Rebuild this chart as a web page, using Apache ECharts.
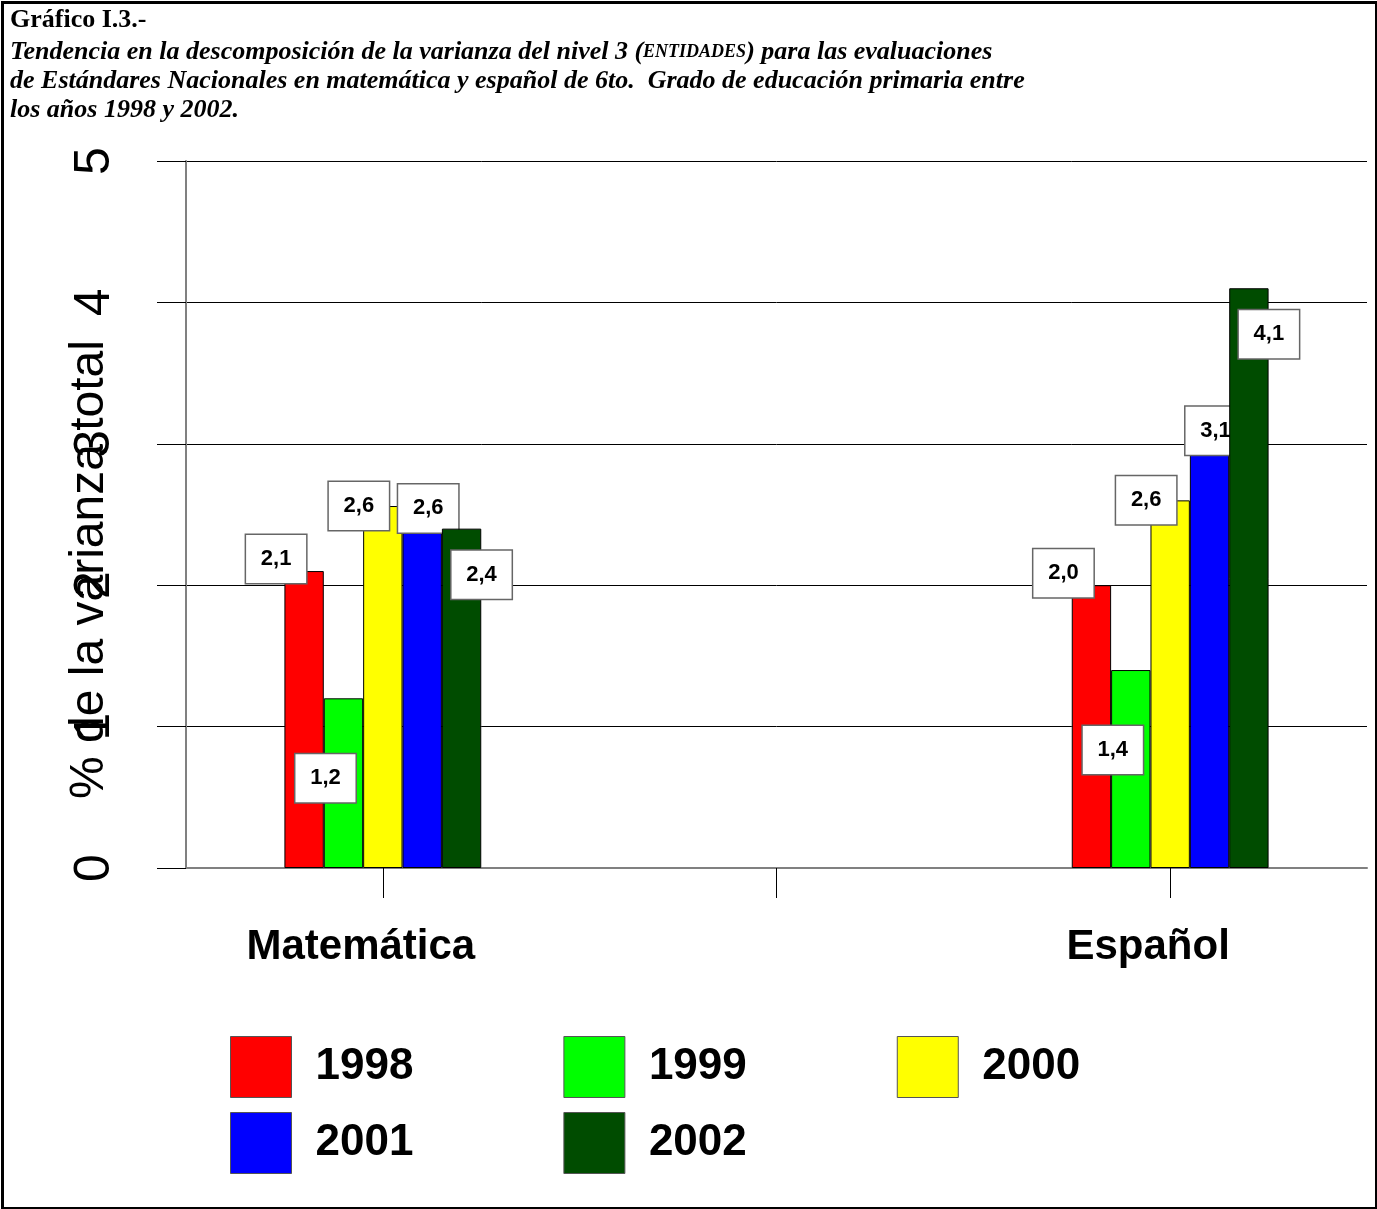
<!DOCTYPE html>
<html>
<head>
<meta charset="utf-8">
<title>Gráfico I.3</title>
<script src="https://cdn.jsdelivr.net/npm/echarts@6/dist/echarts.min.js"></script>
<style>
  html, body { margin: 0; padding: 0; background: #fff; }
  #chart { width: 1377px; height: 1209px; }
</style>
</head>
<body>
<div id="chart"></div>
<script>
// Subjects on the category axis (middle slot left empty as a spacer)
const subjects = ['Matemática', '', 'Español'];
// Evaluation years (one series each)
const years = ['1998', '1999', '2000', '2001', '2002'];
// % of variance at level 3 (entities), per year: [Matemática, spacer, Español]
const v1998 = [2.1, null, 2.0];
const v1999 = [1.2, null, 1.4];
const v2000 = [2.56, null, 2.6];
const v2001 = [2.55, null, 3.1];
const v2002 = [2.4, null, 4.1];
const yTicks = [0, 1, 2, 3, 4, 5];

const seriesValues = [v1998, v1999, v2000, v2001, v2002];
const colors = ['#ff0000', '#00ff00', '#ffff00', '#0000ff', '#004c00'];
// label box nudges per series (x, y) relative to the top of the bar
const labelNudge = [[-28, 12], [-18, 104], [-24, 24], [6, 25], [20, 70]];

const fmt = v => (Math.round(v * 10 + 1e-9) / 10).toFixed(1).replace('.', ',');

const chart = echarts.init(document.getElementById('chart'), null, { renderer: 'canvas' });

const legendBase = {
  left: 225,
  orient: 'horizontal',
  itemWidth: 61, itemHeight: 61, itemGap: 150,
  icon: 'rect',
  itemStyle: { borderColor: '#555', borderWidth: 1 },
  textStyle: { fontFamily: 'Liberation Sans', fontWeight: 'bold', fontSize: 44, color: '#000', padding: [0, 0, 0, 19] }
};

const option = {
  backgroundColor: '#fff',
  animation: false,
  title: {
    left: 5, top: 2,
    itemGap: 5,
    text: 'Gráfico I.3.-',
    textStyle: { fontFamily: 'Liberation Serif', fontWeight: 'bold', fontSize: 26, color: '#000' },
    subtext: 'Tendencia en la descomposición de la varianza del nivel 3 ({sc|ENTIDADES}) para las evaluaciones\nde Estándares Nacionales en matemática y español de 6to.  Grado de educación primaria entre\nlos años 1998 y 2002.',
    subtextStyle: {
      fontFamily: 'Liberation Serif', fontStyle: 'italic', fontWeight: 'bold', fontSize: 26, lineHeight: 29, color: '#000',
      rich: { sc: { fontFamily: 'Liberation Serif', fontStyle: 'italic', fontSize: 18, fontWeight: 'bold', color: '#000' } }
    }
  },
  grid: { left: 186, right: 10, top: 161, bottom: 341, containLabel: false },
  legend: [
    Object.assign({}, legendBase, { top: 1031, data: years.slice(0, 3) }),
    Object.assign({}, legendBase, { top: 1107, data: years.slice(3) })
  ],
  xAxis: {
    type: 'category',
    data: subjects,
    axisLine: { show: true, lineStyle: { color: '#808080', width: 2 } },
    axisTick: { show: true, alignWithLabel: true, length: 30, inside: false, lineStyle: { color: '#000', width: 1 }, interval: 0 },
    axisLabel: {
      interval: 0, margin: 58, fontFamily: 'Liberation Sans', fontWeight: 'bold', fontSize: 42, color: '#000',
      padding: [0, 44, 0, 0]
    },
    splitLine: { show: false }
  },
  yAxis: {
    type: 'value', min: 0, max: 5, interval: 1,
    name: '% de la varianza total',
    nameLocation: 'middle', nameRotate: 90, nameGap: 72, nameMoveOverlap: false,
    nameTextStyle: { fontFamily: 'Liberation Sans', fontSize: 48, color: '#000', padding: [0, 0, 0, -110] },
    axisLine: { show: true, lineStyle: { color: '#808080', width: 2 } },
    axisTick: { show: true, length: 29, lineStyle: { color: '#000', width: 1 } },
    axisLabel: {
      rotate: 90, margin: 66, fontFamily: 'Liberation Sans', fontSize: 50, color: '#000',
      formatter: v => yTicks.includes(v) ? String(v) : ''
    },
    splitLine: { show: true, lineStyle: { color: '#000', width: 1 } }
  },
  series: years.map((y, i) => ({
    name: y,
    type: 'bar',
    data: seriesValues[i],
    barWidth: '10%',
    barGap: '0%',
    itemStyle: { color: colors[i], borderColor: '#000', borderWidth: 1 },
    label: {
      show: true,
      position: 'top',
      distance: 0,
      offset: labelNudge[i],
      formatter: p => fmt(p.value),
      fontFamily: 'Liberation Sans', fontWeight: 'bold', fontSize: 22, lineHeight: 26,
      color: '#000',
      backgroundColor: '#fff',
      borderColor: '#666', borderWidth: 1.5,
      padding: [11, 10],
      width: 40, align: 'center'
    },
    z: 2 + i
  })),
  graphic: [{
    type: 'rect',
    left: 0, top: 0,
    shape: { x: 1.5, y: 1.5, width: 1374, height: 1206 },
    style: { fill: 'none', stroke: '#000', lineWidth: 3 },
    z: 100
  }]
};

chart.setOption(option);
</script>
</body>
</html>
